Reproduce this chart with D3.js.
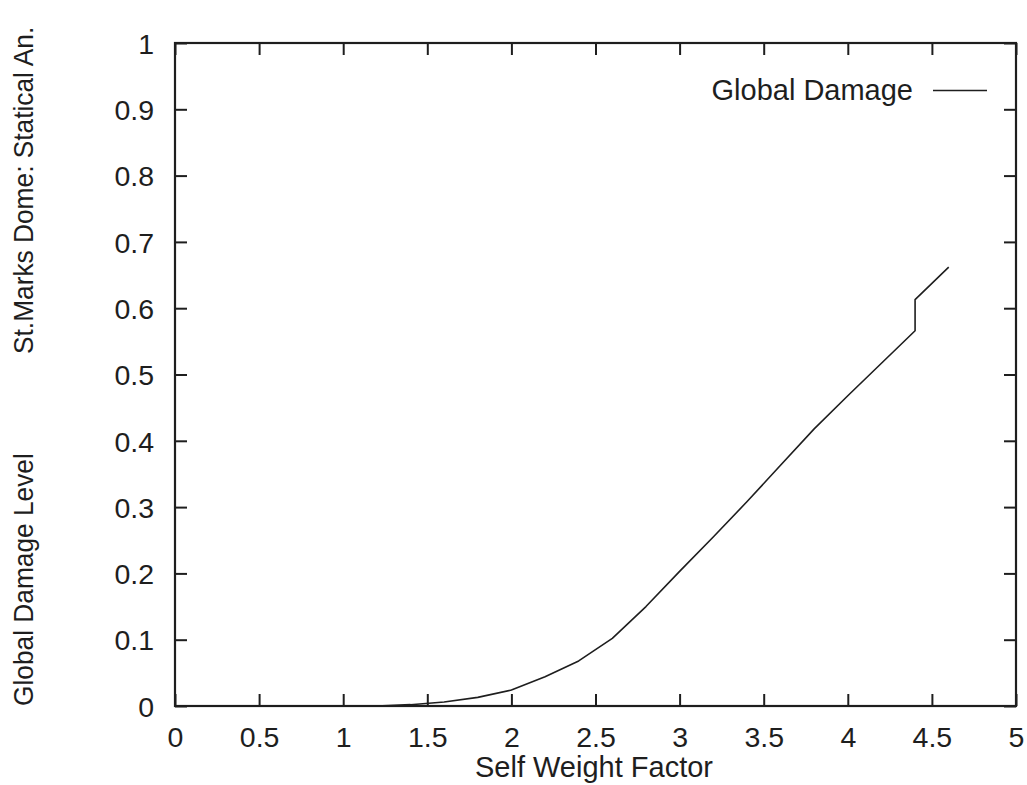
<!DOCTYPE html>
<html>
<head>
<meta charset="utf-8">
<script src="https://cdn.jsdelivr.net/npm/d3@7"></script>
<style>
  html, body { margin: 0; padding: 0; background: #fff; }
  svg { display: block; }
  text { font-family: "Liberation Sans", Arial, Helvetica, sans-serif; fill: #1e1e1e; }
</style>
</head>
<body>
<svg id="chart" width="1027" height="785"></svg>
<script>
// Self weight factor (load multiplier) and the resulting global damage level
const loadFactor = [0, 0.2, 0.4, 0.6, 0.8, 1.0, 1.2, 1.4, 1.6, 1.8, 2.0, 2.2, 2.4, 2.6, 2.8, 3.0,
                    3.2, 3.4, 3.6, 3.8, 4.0, 4.2, 4.4, 4.4, 4.6];
const globalDamage = [0, 0, 0, 0, 0, 0, 0, 0.002, 0.006, 0.013, 0.024, 0.044, 0.068, 0.102, 0.150, 0.203,
                      0.255, 0.308, 0.363, 0.418, 0.468, 0.517, 0.566, 0.613, 0.662];

const xTicks = [0, 0.5, 1, 1.5, 2, 2.5, 3, 3.5, 4, 4.5, 5];
const yTicks = [0, 0.1, 0.2, 0.3, 0.4, 0.5, 0.6, 0.7, 0.8, 0.9, 1];

const seriesName = "Global Damage";
const xTitle = "Self Weight Factor";
const yTitleLower = "Global Damage Level";
const yTitleUpper = "St.Marks Dome: Statical An.";

const svg = d3.select("#chart");
const plotLeft = 175, plotRight = 1016, plotTop = 43, plotBottom = 706;
const ink = "#1e1e1e";
const labelSize = 28.5;

const x = d3.scaleLinear().domain([0, 5]).range([plotLeft, plotRight]);
const y = d3.scaleLinear().domain([0, 1]).range([plotBottom, plotTop]);

const tickLen = 12;

// bottom axis: inward ticks + labels
const gx = svg.append("g").attr("transform", `translate(0,${plotBottom})`)
  .call(d3.axisBottom(x).tickValues(xTicks).tickFormat(d => String(d))
        .tickSizeInner(-tickLen).tickSizeOuter(0).tickPadding(22));
// top axis: mirrored ticks only
const gxt = svg.append("g").attr("transform", `translate(0,${plotTop})`)
  .call(d3.axisTop(x).tickValues(xTicks).tickFormat("")
        .tickSizeInner(-tickLen).tickSizeOuter(0));
// left axis: inward ticks + labels
const gy = svg.append("g").attr("transform", `translate(${plotLeft},0)`)
  .call(d3.axisLeft(y).tickValues(yTicks).tickFormat(d => String(d))
        .tickSizeInner(-tickLen).tickSizeOuter(0).tickPadding(20));
// right axis: mirrored ticks only
const gyr = svg.append("g").attr("transform", `translate(${plotRight},0)`)
  .call(d3.axisRight(y).tickValues(yTicks).tickFormat("")
        .tickSizeInner(-tickLen).tickSizeOuter(0));

[gx, gxt, gy, gyr].forEach(g => {
  g.select(".domain").remove();
  g.selectAll(".tick line").attr("stroke", ink).attr("stroke-width", 2);
  g.selectAll(".tick text").attr("font-size", labelSize).attr("fill", ink)
    .style("font-family", '"Liberation Sans", Arial, sans-serif');
});
gx.selectAll(".tick text").attr("y", 0).attr("dy", 0).attr("transform", "translate(0,41)");
gy.selectAll(".tick text").attr("x", -21).attr("dy", "0.36em");

// plot frame
svg.append("rect")
  .attr("x", plotLeft).attr("y", plotTop)
  .attr("width", plotRight - plotLeft).attr("height", plotBottom - plotTop)
  .attr("fill", "none").attr("stroke", ink).attr("stroke-width", 2.2);

// damage curve
const pts = loadFactor.map((v, i) => [v, globalDamage[i]]);
svg.append("path")
  .datum(pts)
  .attr("fill", "none")
  .attr("stroke", ink)
  .attr("stroke-width", 1.6)
  .attr("stroke-linejoin", "round")
  .attr("d", d3.line().x(d => x(d[0])).y(d => y(d[1])));

// legend
svg.append("text")
  .attr("x", 913).attr("y", 100)
  .attr("text-anchor", "end")
  .attr("font-size", 29)
  .text(seriesName);
svg.append("line")
  .attr("x1", 933).attr("x2", 987)
  .attr("y1", 90.5).attr("y2", 90.5)
  .attr("stroke", ink).attr("stroke-width", 1.6);

// axis titles
svg.append("text")
  .attr("x", 594).attr("y", 777)
  .attr("text-anchor", "middle")
  .attr("font-size", 29)
  .text(xTitle);

svg.append("text")
  .attr("transform", "translate(33,706) rotate(-90) scale(1,1.08)")
  .attr("text-anchor", "start")
  .attr("font-size", 26.3)
  .text(yTitleLower);
svg.append("text")
  .attr("transform", "translate(33,354) rotate(-90) scale(1,1.08)")
  .attr("text-anchor", "start")
  .attr("font-size", 26.3)
  .text(yTitleUpper);
</script>
</body>
</html>
